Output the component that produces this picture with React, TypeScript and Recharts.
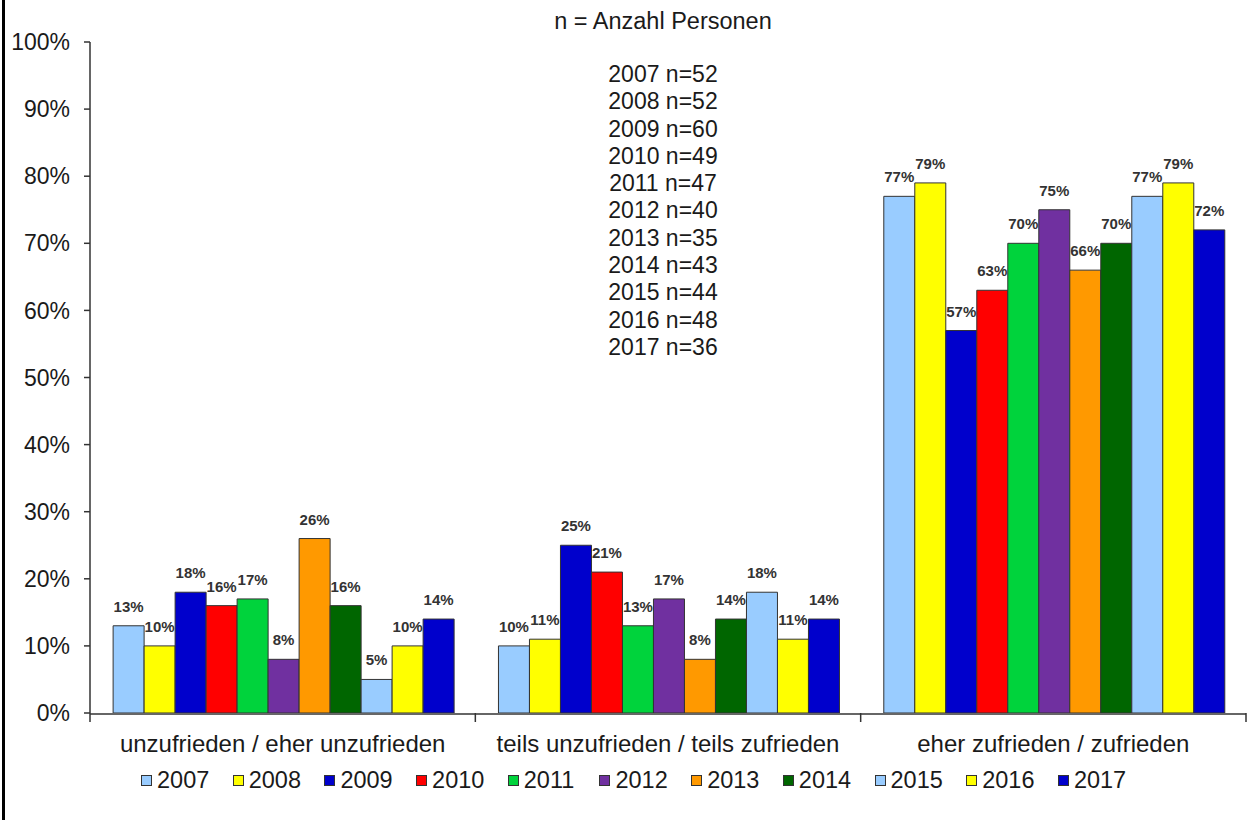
import React from 'react';
import { BarChart, Bar, XAxis, YAxis, Legend, LabelList } from 'recharts';

const categories = [
  'unzufrieden / eher unzufrieden',
  'teils unzufrieden / teils zufrieden',
  'eher zufrieden / zufrieden',
];

const years = ['2007', '2008', '2009', '2010', '2011', '2012', '2013', '2014', '2015', '2016', '2017'];
const colors = ['#99CCFF', '#FFFF00', '#0000CC', '#FF0000', '#00D33C', '#7030A0', '#FF9900', '#006600', '#99CCFF', '#FFFF00', '#0000CC'];

const v2007 = [13, 10, 77];
const v2008 = [10, 11, 79];
const v2009 = [18, 25, 57];
const v2010 = [16, 21, 63];
const v2011 = [17, 13, 70];
const v2012 = [8, 17, 75];
const v2013 = [26, 8, 66];
const v2014 = [16, 14, 70];
const v2015 = [5, 18, 77];
const v2016 = [10, 11, 79];
const v2017 = [14, 14, 72];

const seriesValues = [v2007, v2008, v2009, v2010, v2011, v2012, v2013, v2014, v2015, v2016, v2017];
const sampleSizes = [52, 52, 60, 49, 47, 40, 35, 43, 44, 48, 36];
const yTicks = [0, 10, 20, 30, 40, 50, 60, 70, 80, 90, 100];
const boundaryTicks = [0, 1, 2, 3];

const data = categories.map((c, i) => {
  const row: Record<string, string | number> = { category: c, pos: i + 0.5 };
  years.forEach((y, k) => {
    row['y' + y] = seriesValues[k][i];
  });
  return row;
});

const FONT = '"Liberation Sans", Arial, sans-serif';
const TEXT = '#1a1a1a';
const AXIS = '#333333';

const LegendContent = () => (
  <div style={{ display: 'flex', paddingLeft: 141, height: 30, alignItems: 'center', fontFamily: FONT }}>
    {years.map((y, i) => (
      <div key={y + i} style={{ width: 91.7, display: 'flex', alignItems: 'center', flexShrink: 0 }}>
        <span
          style={{
            display: 'inline-block',
            width: 9,
            height: 9,
            background: colors[i],
            border: '1px solid #333',
            marginRight: 5,
          }}
        />
        <span style={{ fontSize: 23.5, color: TEXT, lineHeight: '30px' }}>{y}</span>
      </div>
    ))}
  </div>
);

const EmptyTick = () => <g />;

export default function App() {
  return (
    <div style={{ position: 'absolute', left: 0, top: 0, width: 1255, height: 820, background: '#fff', fontFamily: FONT }}>
      <div style={{ position: 'absolute', left: 2, top: 0, width: 3, height: 820, background: '#000' }} />
      <BarChart
        width={1255}
        height={820}
        data={data}
        margin={{ top: 42, right: 9, left: 0, bottom: 37 }}
        barCategoryGap="6%"
        barGap={0}
        style={{ fontFamily: FONT }}
      >
        <XAxis
          xAxisId="bounds"
          type="number"
          dataKey="pos"
          domain={[0, 3]}
          ticks={boundaryTicks}
          allowDataOverflow
          tick={EmptyTick}
          axisLine={false}
          tickLine={{ stroke: AXIS, strokeWidth: 1.5 }}
          tickSize={9}
          height={1}
        />
        <XAxis
          xAxisId="cat"
          dataKey="category"
          interval={0}
          tickLine={false}
          axisLine={{ stroke: AXIS, strokeWidth: 1.5 }}
          tick={{ fontSize: 24, fill: TEXT }}
          tickSize={6}
          tickMargin={15}
          height={39}
        />
        <YAxis
          domain={[0, 100]}
          ticks={yTicks}
          allowDataOverflow
          tickFormatter={(v: number) => v + '%'}
          tick={{ fontSize: 23, fill: TEXT }}
          tickLine={{ stroke: AXIS, strokeWidth: 1.5 }}
          axisLine={{ stroke: AXIS, strokeWidth: 1.5 }}
          tickSize={6}
          tickMargin={14}
          width={90}
        />
        <Legend
          verticalAlign="bottom"
          content={<LegendContent />}
          wrapperStyle={{ top: 765, bottom: 'auto', left: 0, width: 1255, height: 30 }}
        />
        {years.map((y, i) => (
          <Bar
            key={'y' + y}
            xAxisId="cat"
            dataKey={'y' + y}
            name={y}
            fill={colors[i]}
            stroke="#333"
            strokeWidth={1}
            isAnimationActive={false}
          >
            <LabelList
              dataKey={'y' + y}
              position="top"
              offset={14}
              formatter={(v: number) => v + '%'}
              fill="#333"
              fontSize={15}
              fontWeight="bold"
            />
          </Bar>
        ))}
      </BarChart>
      <div
        style={{
          position: 'absolute',
          left: 513,
          top: 8,
          width: 300,
          textAlign: 'center',
          fontSize: 23.5,
          lineHeight: '27px',
          color: TEXT,
        }}
      >
        n = Anzahl Personen
      </div>
      <div
        style={{
          position: 'absolute',
          left: 513,
          top: 61,
          width: 300,
          textAlign: 'center',
          fontSize: 23,
          lineHeight: '27.3px',
          color: TEXT,
        }}
      >
        {years.map((y, i) => (
          <div key={'n' + y}>{y + ' n=' + sampleSizes[i]}</div>
        ))}
      </div>
    </div>
  );
}
